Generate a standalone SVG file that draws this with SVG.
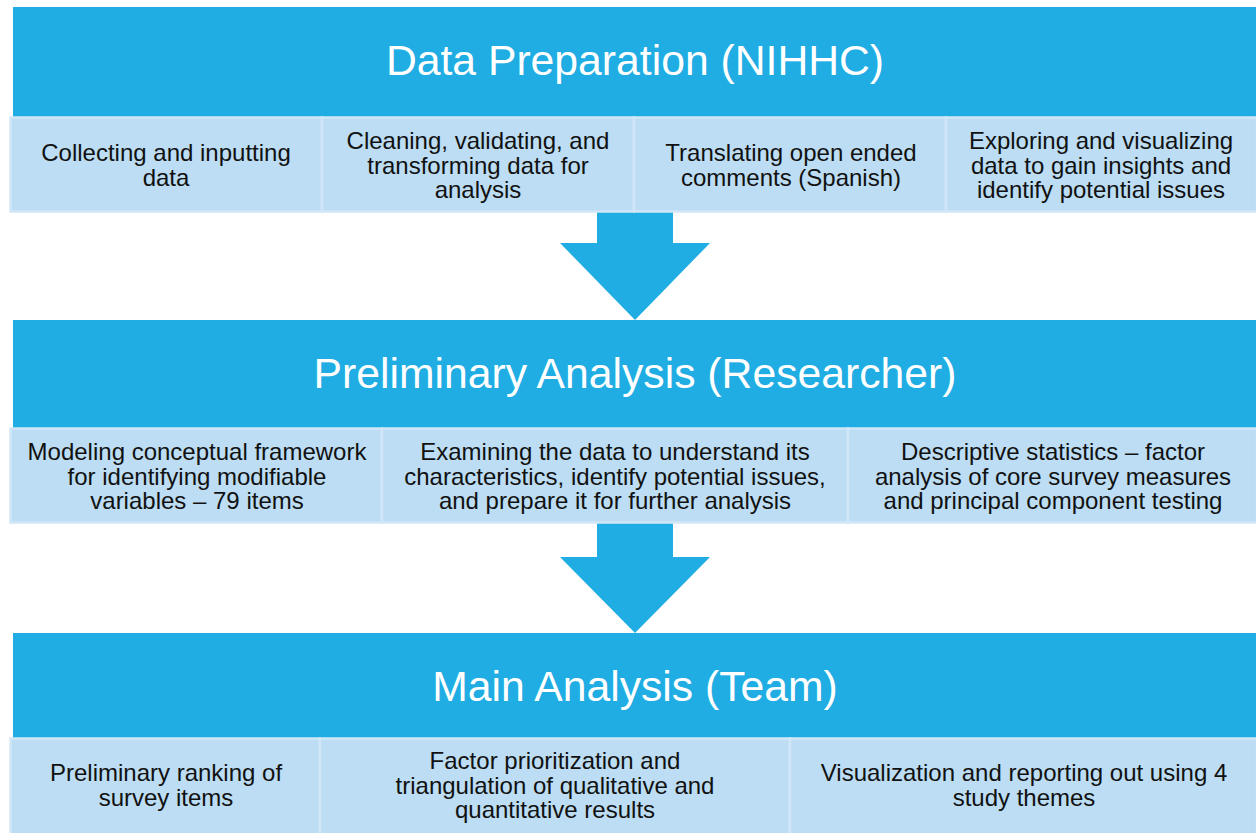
<svg xmlns="http://www.w3.org/2000/svg" width="1256" height="833" viewBox="0 0 1256 833">
<style>
.hdr{fill:#1fade3}
.box{fill:#bcddf3;stroke:#d1e7f7;stroke-width:2.5}
.arrow{fill:#1fade3}
.ht{font-family:"Liberation Sans",Arial,sans-serif;font-size:42.7px;fill:#ffffff;text-anchor:middle}
.bt{font-family:"Liberation Sans",Arial,sans-serif;font-size:24px;fill:#111111;text-anchor:middle}
</style>
<rect width="1256" height="833" fill="#ffffff"/>
<g id="connectors">
<polygon class="arrow" points="597,208 673,208 673,243 710,243 635,320 560,243 597,243"/>
<polygon class="arrow" points="597,520 673,520 673,557 710,557 635,633 560,557 597,557"/>
</g>
<g id="header-data-preparation">
<rect class="hdr" x="13" y="7" width="1243" height="110"/>
<text class="ht" x="635" y="75">Data Preparation (NIHHC)</text>
</g>
<g id="node-collecting">
<rect class="box" x="10.5" y="117.5" width="311.5" height="94"/>
<text class="bt" x="166" y="161">Collecting and inputting</text>
<text class="bt" x="166" y="186">data</text>
</g>
<g id="node-cleaning">
<rect class="box" x="322" y="117.5" width="312" height="94"/>
<text class="bt" x="478" y="149">Cleaning, validating, and</text>
<text class="bt" x="478" y="173.5">transforming data for</text>
<text class="bt" x="478" y="198">analysis</text>
</g>
<g id="node-translating">
<rect class="box" x="634" y="117.5" width="312" height="94"/>
<text class="bt" x="791" y="161">Translating open ended</text>
<text class="bt" x="791" y="186">comments (Spanish)</text>
</g>
<g id="node-exploring">
<rect class="box" x="946" y="117.5" width="311" height="94"/>
<text class="bt" x="1101" y="149">Exploring and visualizing</text>
<text class="bt" x="1101" y="173.5">data to gain insights and</text>
<text class="bt" x="1101" y="198">identify potential issues</text>
</g>
<g id="header-preliminary-analysis">
<rect class="hdr" x="13" y="320" width="1243" height="108"/>
<text class="ht" x="635" y="388">Preliminary Analysis (Researcher)</text>
</g>
<g id="node-modeling">
<rect class="box" x="10.5" y="428.5" width="371.5" height="94"/>
<text class="bt" x="197" y="460">Modeling conceptual framework</text>
<text class="bt" x="197" y="484.5">for identifying modifiable</text>
<text class="bt" x="197" y="509">variables – 79 items</text>
</g>
<g id="node-examining">
<rect class="box" x="382" y="428.5" width="466" height="94"/>
<text class="bt" x="615" y="460">Examining the data to understand its</text>
<text class="bt" x="615" y="484.5">characteristics, identify potential issues,</text>
<text class="bt" x="615" y="509">and prepare it for further analysis</text>
</g>
<g id="node-descriptive">
<rect class="box" x="848" y="428.5" width="409" height="94"/>
<text class="bt" x="1053" y="460">Descriptive statistics – factor</text>
<text class="bt" x="1053" y="484.5">analysis of core survey measures</text>
<text class="bt" x="1053" y="509">and principal component testing</text>
</g>
<g id="header-main-analysis">
<rect class="hdr" x="13" y="633" width="1243" height="105"/>
<text class="ht" x="635" y="701">Main Analysis (Team)</text>
</g>
<g id="node-ranking">
<rect class="box" x="10.5" y="738.5" width="309.5" height="96"/>
<text class="bt" x="166" y="781">Preliminary ranking of</text>
<text class="bt" x="166" y="806">survey items</text>
</g>
<g id="node-factor">
<rect class="box" x="320" y="738.5" width="470" height="96"/>
<text class="bt" x="555" y="769">Factor prioritization and</text>
<text class="bt" x="555" y="793.5">triangulation of qualitative and</text>
<text class="bt" x="555" y="818">quantitative results</text>
</g>
<g id="node-visualization">
<rect class="box" x="790" y="738.5" width="467" height="96"/>
<text class="bt" x="1024" y="781">Visualization and reporting out using 4</text>
<text class="bt" x="1024" y="806">study themes</text>
</g>
</svg>
